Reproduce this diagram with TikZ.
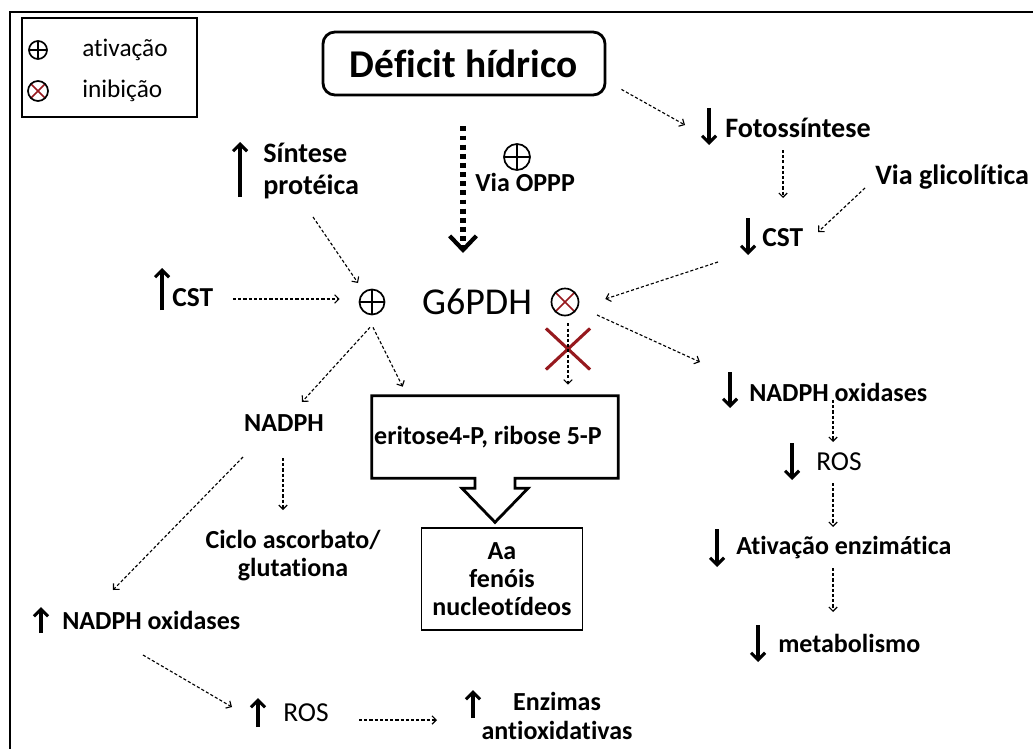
\documentclass[tikz,border=0pt]{standalone}
\usepackage{fontspec}
\setmainfont{Carlito}[Ligatures=NoCommon]
\usetikzlibrary{arrows.meta,shapes.misc}

\definecolor{xred}{RGB}{150,25,30}
\newcommand{\lbl}{\fontsize{18.5}{20}\selectfont\bfseries}
\newcommand{\lblbig}{\fontsize{20}{23}\selectfont\bfseries}

\begin{document}
\begin{tikzpicture}[x=0.025cm,y=-0.025cm,>={Straight Barb[length=3pt,width=6pt]}]
  \tikzstyle{tag}=[inner sep=0pt,anchor=west,font=\lbl]
  \tikzstyle{flow}=[->,line width=0.8pt,dash pattern=on 2.2pt off 1.5pt]
  \tikzstyle{trend}=[-{Straight Barb[length=5pt,width=10pt]},line width=2.2pt]
  \tikzstyle{activ}=[circle,draw,line width=1.2pt,minimum size=0.625cm,inner sep=0pt,
    path picture={\draw[line width=1.2pt] (path picture bounding box.north) -- (path picture bounding box.south)
      (path picture bounding box.west) -- (path picture bounding box.east);}]
  \tikzstyle{inhib}=[circle,draw,line width=1.2pt,minimum size=0.675cm,inner sep=0pt,
    path picture={\draw[xred,line width=1.2pt] (path picture bounding box.north west) -- (path picture bounding box.south east)
      (path picture bounding box.north east) -- (path picture bounding box.south west);}]

  \useasboundingbox (0,0) rectangle (1033,749);
  \draw[line width=2pt] (10,760) -- (10,12) -- (1045,12);

  % legend
  \node[draw,line width=1.2pt,minimum width=4.375cm,minimum height=2.475cm] (legend) at (109.5,67.5) {};
  \node[activ,minimum size=0.45cm] (lgact) at (38,50) {};
  \node[tag,font=\fontsize{18}{20}\selectfont] (lgacttxt) at (82,50) {ativação};
  \node[inhib,minimum size=0.5cm] (lginh) at (38,91) {};
  \node[tag,font=\fontsize{18}{20}\selectfont] (lginhtxt) at (82,91) {inibição};

  % top
  \node[draw,rounded corners=0.3cm,line width=2pt,minimum width=7.05cm,minimum height=1.575cm,
    font=\fontsize{28}{32}\selectfont\bfseries] (deficit) at (464,63.5) {Déficit hídrico};
  \node[tag] (oppp) at (475,182) {Via OPPP};
  \node[activ,minimum size=0.65cm] (opppact) at (517,157) {};

  \node[tag,font=\lblbig] (foto) at (725,128) {Fotossíntese};
  \node[tag,font=\lblbig] (glic) at (875,177) {Via glicolítica};
  \node[tag,font=\fontsize{19.5}{22}\selectfont\bfseries] (cstdown) at (762,238) {CST};
  \node[tag,align=left,font=\fontsize{20}{23}\selectfont\bfseries] (sintese) at (263,171) {Síntese\\protéica};
  \node[tag,font=\fontsize{19.5}{22}\selectfont\bfseries] (cstup) at (172,298) {CST};

  % enzyme
  \node[activ] (act) at (372,302) {};
  \node[inner sep=0pt,font=\fontsize{27}{30}\selectfont] (g6pdh) at (477,302) {G6PDH};
  \node[inhib] (inh) at (565,302) {};
  \node[cross out,draw=xred,line width=2.2pt,minimum width=1.025cm,minimum height=0.95cm,inner sep=0pt] (block) at (568,349) {};

  % products
  \node[inner sep=0pt,font=\lbl] (nadph) at (284,423) {NADPH};
  \node[minimum width=6.15cm,minimum height=2.05cm,inner sep=0pt,font=\lbl] (eritose) at (495,437) {eritose4-P, ribose 5-P\hspace*{0.35cm}};
  \node[draw,line width=1pt,minimum width=4.025cm,minimum height=2.55cm,align=center,
    font=\fontsize{18.5}{20}\selectfont\bfseries] (aa) at (502,579) {Aa\\fenóis\\nucleotídeos};
  \node[inner sep=0pt,align=center,font=\lbl] (ciclo) at (293,556) {Ciclo ascorbato/\\glutationa};
  \node[tag] (noxup) at (62,620) {NADPH oxidases};
  \node[tag,font=\fontsize{19.5}{22}\selectfont] (rosup) at (283,713) {ROS};
  \node[inner sep=0pt,align=center,font=\lbl] (enz) at (557,716) {Enzimas\\antioxidativas};

  \node[tag] (noxdown) at (749,392) {NADPH oxidases};
  \node[tag,font=\fontsize{19.5}{22}\selectfont] (rosdown) at (816,462) {ROS};
  \node[tag] (ativ) at (736,548) {Ativação enzimática};
  \node[tag] (metab) at (778,643) {metabolismo};

  % block arrow of the sugar phosphates
  \draw[line width=2pt] (eritose.south west) -- (eritose.north west) -- (eritose.north east) -- (eritose.south east)
    -- ([shift={(20,0)}]eritose.south) -- ++(0,10) -- ++(13,0) -- ([shift={(0,44)}]eritose.south)
    -- ([shift={(-33,10)}]eritose.south) -- ++(13,0) -- ([shift={(-20,0)}]eritose.south) -- cycle;

  % up / down marks
  \draw[trend] ([shift={(-16,-20)}]foto.west) -- ++(0,37);
  \draw[trend] ([shift={(-14,-20)}]cstdown.west) -- ++(0,37);
  \draw[trend] ([shift={(-23,26)}]sintese.west) -- ++(0,-55);
  \draw[trend] ([shift={(-10,12)}]cstup.west) -- ++(0,-42);
  \draw[trend] ([shift={(-21,13)}]noxup.west) -- ++(0,-26);
  \draw[trend] ([shift={(-25,14)}]rosup.west) -- ++(0,-29);
  \draw[trend] ([shift={(-84,2)}]enz.center) -- ++(0,-28);
  \draw[trend] ([shift={(-19,-20)}]noxdown.west) -- ++(0,36);
  \draw[trend] ([shift={(-24,-19)}]rosdown.west) -- ++(0,37);
  \draw[trend] ([shift={(-19,-19)}]ativ.west) -- ++(0,38);
  \draw[trend] ([shift={(-20,-18)}]metab.west) -- ++(0,37);

  % connectors
  \draw[line width=4pt,dash pattern=on 3.5pt off 3pt,-{Straight Barb[length=10pt,width=19pt,line width=3pt]}]
    ([shift={(-1,30)}]deficit.south) -- ([shift={(-14,-49)}]g6pdh.center);
  \draw[flow] ([shift={(15,-7)}]deficit.south east) -- ([shift={(-40,-3)}]foto.west);
  \draw[flow] ([shift={(58,22)}]foto.west) -- ([shift={(21,-40)}]cstdown.west);
  \draw[flow] ([shift={(-10,11)}]glic.west) -- ([shift={(56,-6)}]cstdown.west);
  \draw[flow] ([shift={(-44,24)}]cstdown.west) -- ([shift={(26,-3)}]inh.east);
  \draw[flow] ([shift={(50,46)}]sintese.west) -- ([shift={(-14,-19)}]act.center);
  \draw[flow] ([shift={(61,1)}]cstup.west) -- ([shift={(-19,-3)}]act.west);
  \draw[flow] ([shift={(-2,12)}]act.south) -- ([shift={(18,-21)}]nadph.center);
  \draw[flow] ([shift={(1,12)}]act.south) -- ([shift={(31,-9)}]eritose.north west);
  \draw[flow] ([shift={(3,7)}]inh.south) -- ([shift={(73,-11)}]eritose.north);
  \draw[flow] ([shift={(32,13)}]inh.center) -- ([shift={(-49,-30)}]noxdown.west);
  \draw[flow] ([shift={(84,8)}]noxdown.west) -- ([shift={(17,-20)}]rosdown.west);
  \draw[flow] ([shift={(17,21)}]rosdown.west) -- ([shift={(97,-21)}]ativ.west);
  \draw[flow] ([shift={(97,20)}]ativ.west) -- ([shift={(55,-31)}]metab.west);
  \draw[flow] ([shift={(-1,35)}]nadph.center) -- ([shift={(-10,-46)}]ciclo.center);
  \draw[flow] ([shift={(-41,34)}]nadph.center) -- ([shift={(51,-30)}]noxup.west);
  \draw[flow] ([shift={(81,35)}]noxup.west) -- ([shift={(-51,-6)}]rosup.west);
  \draw[flow] ([shift={(76,7)}]rosup.west) -- ([shift={(-120,4)}]enz.center);
\end{tikzpicture}
\end{document}
